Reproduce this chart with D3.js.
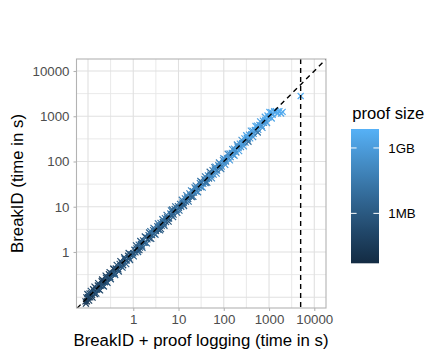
<!DOCTYPE html>
<html><head><meta charset="utf-8">
<script src="https://cdn.jsdelivr.net/npm/d3@7"></script>
<style>html,body{margin:0;padding:0;background:#fff;}svg{display:block;font-family:"Liberation Sans",Arial,sans-serif;}</style>
</head><body><svg id="c" width="427" height="349"></svg>
<script>
// Time with proof logging (s)
const proofLoggingTime = [
0.088,0.092,0.095,0.1,0.104,0.108,0.112,0.118,0.123,0.13,0.136,0.142,0.15,0.158,0.165,0.172,0.18,0.19,0.2,0.21,0.22,0.235,0.25,0.26,0.275,0.29,0.31,0.33,0.35,0.37,0.39,0.41,0.44,0.47,0.5,0.53,0.56,0.6,0.64,0.68,0.72,0.77,0.82,0.87,0.93,
1.0,1.06,1.12,1.18,1.25,1.32,1.4,1.48,1.56,1.65,1.75,1.85,1.95,2.06,2.18,2.3,2.45,2.6,2.75,2.9,3.05,3.2,3.4,3.6,3.8,4.0,4.25,4.5,4.75,5.0,5.3,5.6,5.9,6.2,6.6,7.0,7.4,7.8,8.2,8.7,9.2,9.7,
10.2,10.8,11.5,12.2,13,13.8,14.6,15.5,16.4,17.4,18.5,19.6,20.8,22,23.4,24.8,26.3,27.9,29.6,31.4,33.3,35.3,37.4,39.7,42,44.6,47.3,50.2,53.2,56.4,59.8,63.4,67.3,71.4,75.7,80.3,85.2,90.4,95.9,101,
106,112,119,126,134,142,150,159,169,179,190,201,213,226,240,254,270,286,303,322,341,362,384,407,432,458,486,515,546,579,614,651,690,732,776,823,873,926,982,1050,1120,1200,1300,1420,1550,1700,1850,2000,
0.09,0.097,0.106,0.115,0.126,0.139,0.153,0.168,0.185,0.205,0.225,0.245,0.27,0.3,0.32,0.36,0.4,0.43,0.48,0.52,0.58,0.63,0.7,0.79,0.85,
1.03,1.15,1.28,1.43,1.6,1.8,2.0,2.24,2.5,2.8,3.1,3.5,3.9,4.4,4.9,5.45,6.05,6.8,7.6,8.45,9.4,1.37,2.38,4.1,7.2,
10.5,11.8,13.3,14.9,16.8,18.9,21.3,24,27,30.4,34.2,38.5,43.3,48.8,54.9,61.8,69.6,78.3,88.2,98,12.8,22.6,41,65,83,
108,122,137,154,173,195,219,247,278,313,352,396,446,502,565,636,716,806,907,1020,1150,1600,
5000];
// Time without proof logging (s)
const breakIdTime = [
0.081,0.099,0.081,0.1,0.099,0.121,0.099,0.122,0.111,0.15,0.132,0.118,0.159,0.147,0.182,0.15,0.18,0.179,0.226,0.181,0.229,0.214,0.27,0.218,0.27,0.322,0.276,0.337,0.326,0.422,0.335,0.431,0.418,0.414,0.545,0.488,0.566,0.51,0.717,0.653,0.648,0.824,0.713,0.896,0.874,
0.93,1.12,0.98,1.2,1.1,1.45,1.25,1.5,1.38,1.8,1.6,1.62,2.1,1.9,2.35,2.0,2.45,2.35,3.05,2.55,3.15,2.9,3.7,3.1,3.75,4.4,3.8,4.6,4.3,5.6,4.6,5.8,5.5,5.5,7.1,6.4,7.5,6.7,9.0,8.3,8.4,10.3,
9.5,11.6,10.0,12.3,12.2,15.3,12.9,16.0,14.8,19.8,17.9,16.4,22.0,20.5,25.6,21.6,26.2,26.2,33.2,27.1,34.6,32.1,40.4,33.4,41.2,49.5,42.1,51.2,49.5,64.3,51.4,66.6,63.9,62.8,82.5,73.9,86.0,76.8,107,97,
113,100,118,121,150,125,155,143,192,173,158,214,198,248,209,254,254,323,261,335,310,391,323,399,480,408,496,479,622,498,645,620,607,798,714,831,742,1040,945,980,1230,1080,1290,1300,1150,1300,1150,1250,
0.072,0.118,0.084,0.138,0.098,0.171,0.12,0.205,0.142,0.246,0.173,0.3,0.207,0.36,0.25,0.43,0.31,0.52,0.37,0.63,0.45,0.77,0.54,0.95,0.66,
0.8,1.4,1.0,1.75,1.24,2.2,1.55,2.7,1.95,3.4,2.4,4.3,3.0,5.3,3.8,6.6,4.7,8.3,5.9,10.2,7.3,1.1,2.9,3.2,8.7,
8.2,14.3,10.3,18.1,13.0,23.0,16.5,29.2,20.9,37,26.5,46.8,33.6,59.3,42.5,75,54,95,68,118,11.0,26.8,35,77,72,
84,148,106,187,134,237,170,300,215,380,273,480,345,610,438,770,555,975,703,1240,890,1280,
2800];
// Proof size (bytes)
const proofSize = [
3e4,8e4,2e4,1.5e5,5e4,3e5,1e5,6e4,2e5,4e4,1.2e5,7e4,2.5e5,3e4,1e5,5e5,6e4,2e5,9e4,3e5,1.5e5,4e4,6e5,1e5,2e5,8e4,4e5,1.2e5,3e5,7e4,5e5,2e5,1e6,1.5e5,4e5,2.5e5,8e5,1.2e5,6e5,3e5,1.5e6,2e5,7e5,4e5,1e6,
5e5,1e6,3e5,2e6,6e5,4e6,8e5,1.5e6,3e6,5e5,2e6,1e6,6e6,7e5,2.5e6,1.2e6,8e6,4e5,3e6,1.5e6,1e7,9e5,4e6,2e6,6e5,1.2e7,2.5e6,5e6,1e6,2e7,3e6,8e5,6e6,1.5e6,4e7,2e6,1e7,3e6,8e6,1.2e6,3e7,5e6,
2e6,1e7,5e6,3e7,1.5e6,6e7,8e6,2e7,4e6,1e8,1.2e7,3e6,5e7,2e7,8e6,1.5e8,3e7,6e6,1e8,4e7,1.2e7,2e8,5e7,2e7,8e7,3e8,1e7,1.5e8,6e7,3e7,2e8,8e7,4e8,5e7,1.5e8,3e8,1e8,6e8,2e8,4e8,
3e8,8e7,5e8,2e8,1e9,1.5e8,6e8,3e8,1.2e9,4e8,2e8,8e8,5e8,1.5e9,3e8,1e9,6e8,2e9,4e8,1.2e9,2e8,8e8,1.5e9,5e8,2.5e9,7e8,1e9,3e8,2e9,1.2e9,6e8,3e9,9e8,1.5e9,2e8,2.5e9,1e9,4e9,6e8,2e9,3e9,1.5e9,4e9,2e9,3e9,5e9,2.5e9,4e9,
5e4,2e5,8e4,4e5,3e4,1e5,6e5,2e5,1.5e5,5e4,3e5,1e5,8e5,2e5,4e5,1e5,1.2e6,3e5,6e5,2e5,1e6,5e5,2e6,4e5,8e5,
2e6,8e5,5e6,1.5e6,3e6,1e6,1e7,2.5e6,6e5,6e6,4e6,2e7,1.5e6,8e6,3e6,1.2e7,5e5,3e7,2e6,1e7,5e6,3e5,1.5e7,7e5,4e6,
1e7,4e7,3e6,8e7,2e7,1.5e8,6e6,5e7,1e8,2e7,3e8,4e7,1.2e8,8e6,2e8,6e7,4e8,1.5e8,3e7,5e8,2e6,1e8,1.5e7,3e8,6e7,
5e8,2e8,1.5e9,4e8,8e8,3e8,2e9,6e8,1e9,2.5e9,1e7,1.5e9,5e8,3e9,2e7,2e9,8e8,3e9,1.5e9,4e9,2.5e9,5e9,
5e9];
const timeout = 5000;
const majorBreaks = [0.1, 1, 10, 100, 1000, 10000];
const tickLabels = ["", "1", "10", "100", "1000", "10000"];
const minorBreaks = [0.316, 3.16, 31.6, 316, 3162];
const sizeBreaks = [1e6, 1e9];
const sizeLabels = ["1MB", "1GB"];

const svg = d3.select("#c");
const P = {l: 76.5, r: 326, t: 59, b: 308};
const x = d3.scaleLog().domain([Math.pow(10, -1.254), Math.pow(10, 4.259)]).range([P.l, P.r]);
const y = d3.scaleLog().domain([Math.pow(10, -1.238), Math.pow(10, 4.265)]).range([P.b, P.t]);
const sizeDomain = [Math.pow(10, 3.71), Math.pow(10, 9.87)];
const cScale = d3.scaleSequentialLog(d3.interpolateLab("#132B43", "#56B1F7")).domain(sizeDomain);

svg.append("defs").append("clipPath").attr("id", "clip")
  .append("rect").attr("x", P.l).attr("y", P.t).attr("width", P.r - P.l).attr("height", P.b - P.t);

const grid = svg.append("g");
minorBreaks.forEach(v => {
  grid.append("line").attr("x1", x(v)).attr("x2", x(v)).attr("y1", P.t).attr("y2", P.b).attr("stroke", "#E6E6E6").attr("stroke-width", 0.9);
  grid.append("line").attr("y1", y(v)).attr("y2", y(v)).attr("x1", P.l).attr("x2", P.r).attr("stroke", "#E6E6E6").attr("stroke-width", 0.9);
});
majorBreaks.forEach(v => {
  grid.append("line").attr("x1", x(v)).attr("x2", x(v)).attr("y1", P.t).attr("y2", P.b).attr("stroke", "#E0E0E0").attr("stroke-width", 1.1);
  grid.append("line").attr("y1", y(v)).attr("y2", y(v)).attr("x1", P.l).attr("x2", P.r).attr("stroke", "#E0E0E0").attr("stroke-width", 1.1);
});

const n = Math.min(proofLoggingTime.length, breakIdTime.length, proofSize.length);
const data = d3.range(n).map(i => ({x: proofLoggingTime[i], y: breakIdTime[i], s: proofSize[i]}));
const pts = svg.append("g").attr("clip-path", "url(#clip)");
const h = 3.0;
pts.selectAll("path.pt").data(data).join("path").attr("class", "pt")
  .attr("d", d => {
    const cx = x(d.x), cy = y(d.y);
    return `M${cx - h},${cy - h}L${cx + h},${cy + h}M${cx - h},${cy + h}L${cx + h},${cy - h}`;
  })
  .attr("stroke", d => cScale(d.s)).attr("stroke-width", 1.2).attr("fill", "none");

const lines = svg.append("g").attr("clip-path", "url(#clip)");
const diagLo = 0.03, diagHi = 30000;
lines.append("line").attr("x1", x(diagLo)).attr("y1", y(diagLo)).attr("x2", x(diagHi)).attr("y2", y(diagHi))
  .attr("stroke", "#000").attr("stroke-width", 1.4).attr("stroke-dasharray", "5,4");
lines.append("line").attr("x1", x(timeout)).attr("x2", x(timeout)).attr("y1", P.t).attr("y2", P.b)
  .attr("stroke", "#000").attr("stroke-width", 1.4).attr("stroke-dasharray", "5,4");

svg.append("rect").attr("x", P.l).attr("y", P.t).attr("width", P.r - P.l).attr("height", P.b - P.t)
  .attr("fill", "none").attr("stroke", "#B3B3B3").attr("stroke-width", 1.1);

// Axes
const xAxis = d3.axisBottom(x).tickValues(majorBreaks.slice(1)).tickFormat((d, i) => tickLabels[i + 1]).tickSize(3).tickPadding(4);
const gx = svg.append("g").attr("transform", `translate(0,${P.b})`).call(xAxis);
const yAxis = d3.axisLeft(y).tickValues(majorBreaks.slice(1)).tickFormat((d, i) => tickLabels[i + 1]).tickSize(3).tickPadding(4);
const gy = svg.append("g").attr("transform", `translate(${P.l},0)`).call(yAxis);
[gx, gy].forEach(g => {
  g.select(".domain").remove();
  g.selectAll(".tick line").attr("stroke", "#B3B3B3").attr("stroke-width", 1.1);
  g.selectAll(".tick text").attr("fill", "#4D4D4D").style("font-size", "13.3px").style("font-family", "Liberation Sans, Arial, sans-serif");
});

svg.append("text").attr("x", 201).attr("y", 345.5).attr("text-anchor", "middle")
  .style("font-size", "16.8px").attr("fill", "#000").text("BreakID + proof logging (time in s)");
svg.append("text").attr("transform", "translate(23.3,183.5) rotate(-90)").attr("text-anchor", "middle")
  .style("font-size", "16.8px").attr("fill", "#000").text("BreakID (time in s)");

// Legend
const L = {x: 351, y: 129, w: 28, h: 134.3};
svg.append("text").attr("x", 352.3).attr("y", 118.5).style("font-size", "16.6px").attr("fill", "#000").text("proof size");
const grad = svg.select("defs").append("linearGradient").attr("id", "lg").attr("x1", 0).attr("x2", 0).attr("y1", 1).attr("y2", 0);
d3.range(0, 21).forEach(i => {
  const t = i / 20;
  grad.append("stop").attr("offset", t).attr("stop-color", d3.interpolateLab("#132B43", "#56B1F7")(t));
});
svg.append("rect").attr("x", L.x).attr("y", L.y).attr("width", L.w).attr("height", L.h).attr("fill", "url(#lg)");
const sY = d3.scaleLog().domain(sizeDomain).range([L.y + L.h, L.y]);
sizeBreaks.forEach((b, i) => {
  const yy = sY(b);
  svg.append("line").attr("x1", L.x).attr("x2", L.x + 5.6).attr("y1", yy).attr("y2", yy).attr("stroke", "#fff").attr("stroke-width", 1);
  svg.append("line").attr("x1", L.x + L.w - 5.6).attr("x2", L.x + L.w).attr("y1", yy).attr("y2", yy).attr("stroke", "#fff").attr("stroke-width", 1);
  svg.append("text").attr("x", 388.3).attr("y", yy).attr("dy", "0.35em").style("font-size", "13.3px").attr("fill", "#000").text(sizeLabels[i]);
});
</script></body></html>
